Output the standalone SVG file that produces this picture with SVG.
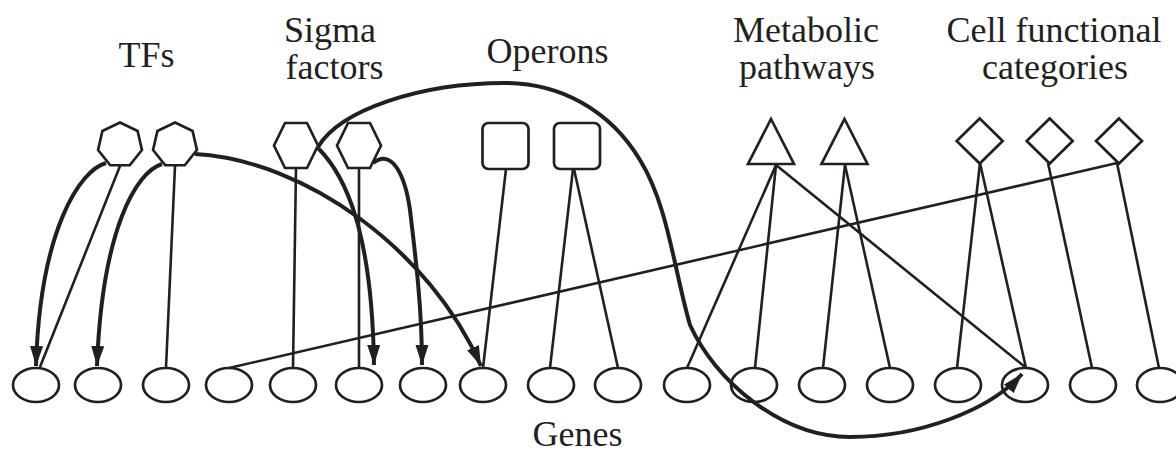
<svg xmlns="http://www.w3.org/2000/svg" xmlns:xlink="http://www.w3.org/1999/xlink" width="1176" height="453" viewBox="0 0 1176 453">
<style>
.lbl{font-family:"Liberation Serif","Times New Roman",serif;font-size:36px;fill:#231f20;text-anchor:middle}
.shape{fill:#fff;stroke:#231f20;stroke-width:2.7;stroke-linejoin:miter}
.thin{fill:none;stroke:#231f20;stroke-width:2.6}
.thick{fill:none;stroke:#231f20;stroke-width:4;marker-end:url(#arr)}
.big{fill:none;stroke:#231f20;stroke-width:4}
</style>
<defs>
<marker id="arr" markerUnits="userSpaceOnUse" markerWidth="22" markerHeight="14" refX="20" refY="6.5" orient="auto">
<path d="M0,0 L20,6.5 L0,13 z" fill="#231f20"/>
</marker>
<polygon id="hept" points="0,-22.5 17.59,-14.03 21.94,5.01 9.76,20.27 -9.76,20.27 -21.94,5.01 -17.59,-14.03"/>
<polygon id="hex" points="-22,0 -11,-22.5 11,-22.5 22,0 11,22.5 -11,22.5"/>
<rect id="sq" x="-23" y="-23" width="46" height="46" rx="6" ry="6"/>
<polygon id="tri" points="0,-22.5 23,22.5 -23,22.5"/>
<polygon id="dia" points="0,-22.5 23,0 0,22.5 -23,0"/>
<ellipse id="gene" cx="0" cy="0" rx="23" ry="17"/>
</defs>

<g id="labels">
<text class="lbl" x="146.5" y="67">TFs</text>
<text class="lbl" x="330" y="42">Sigma</text>
<text class="lbl" x="334.5" y="79">factors</text>
<text class="lbl" x="547.5" y="63">Operons</text>
<text class="lbl" x="806" y="42">Metabolic</text>
<text class="lbl" x="807" y="79">pathways</text>
<text class="lbl" x="1054" y="42">Cell functional</text>
<text class="lbl" x="1055" y="79">categories</text>
<text class="lbl" x="577.5" y="446">Genes</text>
</g>

<g id="connectors">
<line class="thin" x1="120" y1="166" x2="40" y2="367"/>
<line class="thin" x1="175" y1="166" x2="166" y2="368"/>
<line class="thin" x1="296" y1="168" x2="293" y2="368"/>
<line class="thin" x1="359" y1="168" x2="359" y2="368"/>
<line class="thin" x1="506" y1="169" x2="483" y2="368"/>
<line class="thin" x1="573" y1="169" x2="550" y2="368"/>
<line class="thin" x1="574" y1="169" x2="618" y2="368"/>
<line class="thin" x1="776" y1="165" x2="687" y2="368"/>
<line class="thin" x1="776" y1="165" x2="755" y2="368"/>
<line class="thin" x1="776" y1="165" x2="1025" y2="367"/>
<line class="thin" x1="845" y1="165" x2="823" y2="368"/>
<line class="thin" x1="845" y1="165" x2="890" y2="368"/>
<line class="thin" x1="980" y1="163" x2="957" y2="368"/>
<line class="thin" x1="980" y1="163" x2="1026" y2="368"/>
<line class="thin" x1="1048" y1="163" x2="1092" y2="368"/>
<line class="thin" x1="1117" y1="163" x2="1159" y2="368"/>
<line class="thin" x1="1117" y1="163" x2="229" y2="368"/>
<path class="thick" d="M106,163 C80,170 40,230 36,366"/>
<path class="thick" d="M162,164 C136,172 102,230 97,366"/>
<path class="thick" d="M195,154 C305,160 430,250 481,366"/>
<path class="thick" d="M318,148 C345,175 372,230 374,365"/>
<path class="thick" d="M373,163 C392,148 405,175 410,210 C416,260 422,310 422,365"/>
<path class="thick" d="M318,147 C340,110 420,83 505,83 C560,83 610,110 640,160 C668,205 674,270 690,325 C715,380 780,437 850,437 C920,437 990,410 1022,374"/>
</g>

<g id="tf1" class="shape"><use xlink:href="#hept" x="120" y="145"/></g>
<g id="tf2" class="shape"><use xlink:href="#hept" x="175" y="145"/></g>
<g id="sigma1" class="shape"><use xlink:href="#hex" x="296" y="145.5"/></g>
<g id="sigma2" class="shape"><use xlink:href="#hex" x="359" y="145.5"/></g>
<g id="operon1" class="shape"><use xlink:href="#sq" x="505.5" y="146"/></g>
<g id="operon2" class="shape"><use xlink:href="#sq" x="577" y="146"/></g>
<g id="pathway1" class="shape"><use xlink:href="#tri" x="771" y="141.5"/></g>
<g id="pathway2" class="shape"><use xlink:href="#tri" x="844.5" y="141.5"/></g>
<g id="category1" class="shape"><use xlink:href="#dia" x="979.7" y="141"/></g>
<g id="category2" class="shape"><use xlink:href="#dia" x="1049.7" y="141"/></g>
<g id="category3" class="shape"><use xlink:href="#dia" x="1119" y="141"/></g>

<g id="genes" class="shape" fill="none">
<g id="gene1"><use xlink:href="#gene" x="36" y="385" fill="none"/></g>
<g id="gene2"><use xlink:href="#gene" x="98" y="385" fill="none"/></g>
<g id="gene3"><use xlink:href="#gene" x="166" y="385" fill="none"/></g>
<g id="gene4"><use xlink:href="#gene" x="229" y="385" fill="none"/></g>
<g id="gene5"><use xlink:href="#gene" x="293" y="385" fill="none"/></g>
<g id="gene6"><use xlink:href="#gene" x="359" y="385" fill="none"/></g>
<g id="gene7"><use xlink:href="#gene" x="423" y="385" fill="none"/></g>
<g id="gene8"><use xlink:href="#gene" x="483" y="385" fill="none"/></g>
<g id="gene9"><use xlink:href="#gene" x="551" y="385" fill="none"/></g>
<g id="gene10"><use xlink:href="#gene" x="618" y="385" fill="none"/></g>
<g id="gene11"><use xlink:href="#gene" x="687" y="385" fill="none"/></g>
<g id="gene12"><use xlink:href="#gene" x="754" y="385" fill="none"/></g>
<g id="gene13"><use xlink:href="#gene" x="822" y="385" fill="none"/></g>
<g id="gene14"><use xlink:href="#gene" x="890" y="385" fill="none"/></g>
<g id="gene15"><use xlink:href="#gene" x="958" y="385" fill="none"/></g>
<g id="gene16"><use xlink:href="#gene" x="1025" y="385" fill="none"/></g>
<g id="gene17"><use xlink:href="#gene" x="1093" y="385" fill="none"/></g>
<g id="gene18"><use xlink:href="#gene" x="1160" y="385" fill="none"/></g>
</g>
</svg>
